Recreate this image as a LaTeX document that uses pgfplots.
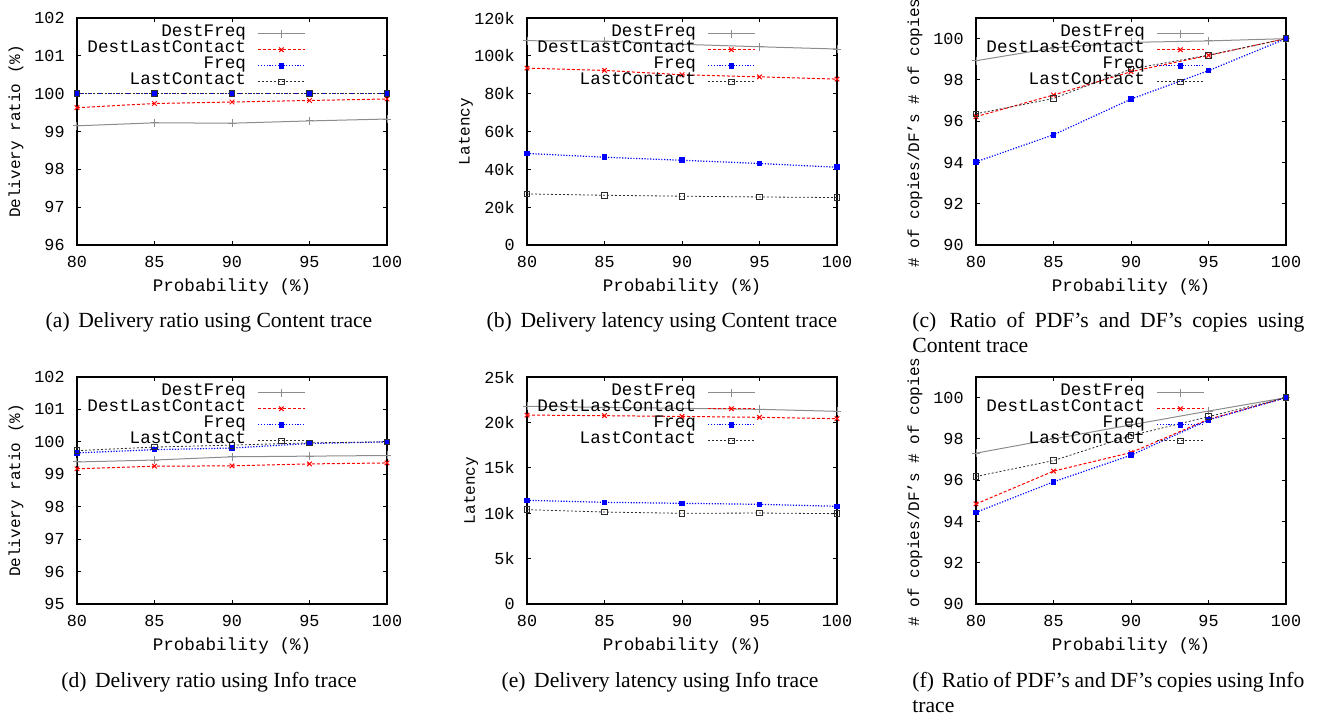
\documentclass[border=0pt]{standalone}
\usepackage{fontspec}
\setmainfont{Liberation Serif}
\newfontfamily\gp{Liberation Mono}
\usepackage{pgfplots}
\usepackage{pgfplotstable}
\pgfplotsset{compat=1.18}

\definecolor{dfgray}{RGB}{140,140,140}
\definecolor{lcgray}{RGB}{45,45,45}
\definecolor{gpred}{RGB}{255,0,0}
\definecolor{gpblue}{RGB}{0,0,255}

% columns: probability, DestFreq, DestLastContact, Freq, LastContact
\pgfplotstableread{
p   df     dlc    f      lc
80  99.15  99.63  100    100
85  99.23  99.74  100    100
90  99.22  99.78  100    100
95  99.28  99.82  100    100
100 99.33  99.86  100    100
}\ratiocontent
\pgfplotstableread{
p   df      dlc    f      lc
80  108000  93500  48400  27000
85  107800  92300  46400  26300
90  106100  90000  44800  25800
95  104800  88900  43100  25400
100 103600  87700  41100  25100
}\latcontent
\pgfplotstableread{
p   df     dlc    f      lc
80  98.93  96.22  94.03  96.36
85  99.55  97.27  95.34  97.10
90  99.82  98.40  97.07  98.53
95  99.89  99.19  98.45  99.20
100 100    100    100    100
}\copiescontent
\pgfplotstableread{
p   df     dlc    f      lc
80  99.38  99.17  99.66  99.73
85  99.44  99.25  99.76  99.84
90  99.54  99.26  99.81  99.90
95  99.56  99.32  99.95  99.97
100 99.58  99.35  100    100
}\ratioinfo
\pgfplotstableread{
p   df     dlc    f      lc
80  21770  20810  11420  10390
85  21660  20740  11200  10130
90  21550  20660  11090  9990
95  21440  20560  10980  10020
100 21220  20410  10760  9950
}\latinfo
\pgfplotstableread{
p   df     dlc    f      lc
80  97.31  94.85  94.44  96.18
85  98.00  96.44  95.92  96.95
90  98.68  97.34  97.21  98.16
95  99.35  98.95  98.92  99.08
100 100    100    100    100
}\copiesinfo

\pgfplotsset{
  gpaxis/.style={
    scale only axis, width=155pt, height=113.5pt,
    xmin=80, xmax=100, xtick={80,85,90,95,100},
    tick align=inside, major tick length=2pt,
    axis line style={line width=0.8pt},
    every tick/.style={black, line width=0.5pt},
    /pgf/number format/assume math mode=true,
    scaled y ticks=false,
    ticklabel style={font=\gp\fontsize{8.4}{9}\selectfont},
    xticklabel style={anchor=center, yshift=-8.7pt},
    yticklabel style={anchor=east, inner sep=0pt, xshift=-6pt},
    xlabel={Probability (\%)},
    xlabel style={at={(axis description cs:0.5,-0.185)}, anchor=center, font=\gp\fontsize{8.8}{9}\selectfont},
    ylabel style={at={(axis description cs:-0.197,0.5)}, anchor=center, font=\gp\fontsize{8}{9}\selectfont},
    legend style={draw=none, fill=none, at={(0.7365,0.966)}, anchor=north east,
      inner sep=0pt, outer sep=0pt, row sep=0pt, column sep=5.8pt,
      font=\gp\fontsize{8.8}{9}\selectfont,
      nodes={inner sep=0pt, text height=5.5pt, text depth=2.5pt}},
    legend cell align=right,
    legend plot pos=right,
    legend image code/.code={\draw[mark repeat=2,mark phase=2,##1] plot coordinates {(0pt,0pt) (11.65pt,0pt) (23.3pt,0pt)};},
  },
  sDF/.style={dfgray, solid, line width=0.5pt, mark=+, mark size=2pt},
  sDLC/.style={gpred, line width=0.5pt, dash pattern=on 1.5pt off 1pt, mark=x, mark size=1.6pt, mark options={solid}},
  sF/.style={gpblue, line width=0.6pt, dash pattern=on 0.6pt off 0.8pt, mark=square*, mark size=1.1pt, mark options={solid}},
  sLC/.style={lcgray, line width=0.4pt, dash pattern=on 1pt off 1pt, mark=square, mark size=1.4pt, mark options={solid}},
}

\newcommand\fourseries[1]{%
  \addplot[sDF] table[x=p, y=df] {#1}; \addlegendentry{DestFreq}
  \addplot[sDLC] table[x=p, y=dlc] {#1}; \addlegendentry{DestLastContact}
  \addplot[sF] table[x=p, y=f] {#1}; \addlegendentry{Freq}
  \addplot[sLC] table[x=p, y=lc] {#1}; \addlegendentry{LastContact}
}

\newcommand\capfont{\fontsize{10.8}{13}\selectfont}

\begin{document}
\begin{tikzpicture}
\path[use as bounding box] (0pt,0pt) rectangle (666pt,-359.5pt);

% (a)
\begin{axis}[gpaxis, at={(38.5pt,-122.5pt)}, anchor=south west,
  ymin=96, ymax=102, ytick={96,97,...,102}, ylabel={Delivery ratio (\%)}]
  \fourseries{\ratiocontent}
\end{axis}

% (b)
\begin{axis}[gpaxis, at={(263.5pt,-122.5pt)}, anchor=south west,
  ymin=0, ymax=120000, ytick={0,20000,40000,60000,80000,100000,120000},
  yticklabels={0,20k,40k,60k,80k,100k,120k}, ylabel={Latency}]
  \fourseries{\latcontent}
\end{axis}

% (c)
\begin{axis}[gpaxis, at={(488pt,-122.5pt)}, anchor=south west,
  ymin=90, ymax=101, ytick={90,92,...,100},
  ylabel={\# of copies/DF’s \# of copies},
  ylabel style={at={(axis description cs:-0.197,-0.101)}, anchor=west, inner sep=0pt}]
  \fourseries{\copiescontent}
\end{axis}

% (d)
\begin{axis}[gpaxis, at={(38.5pt,-302pt)}, anchor=south west,
  ymin=95, ymax=102, ytick={95,96,...,102}, ylabel={Delivery ratio (\%)}]
  \fourseries{\ratioinfo}
\end{axis}

% (e)
\begin{axis}[gpaxis, at={(263.5pt,-302pt)}, anchor=south west,
  ymin=0, ymax=25000, ytick={0,5000,10000,15000,20000,25000},
  yticklabels={0,5k,10k,15k,20k,25k}, ylabel={Latency},
  ylabel style={at={(axis description cs:-0.18,0.5)}}]
  \fourseries{\latinfo}
\end{axis}

% (f)
\begin{axis}[gpaxis, at={(488pt,-302pt)}, anchor=south west,
  ymin=90, ymax=101, ytick={90,92,...,100},
  ylabel={\# of copies/DF’s \# of copies},
  ylabel style={at={(axis description cs:-0.197,-0.101)}, anchor=west, inner sep=0pt}]
  \fourseries{\copiesinfo}
\end{axis}

% captions
\node[anchor=base, inner sep=0pt, font=\capfont] at (104.5pt,-163.5pt) {(a)\hspace{0.15em} Delivery ratio using Content trace};
\node[anchor=base, inner sep=0pt, font=\capfont] at (331pt,-163.5pt) {(b)\hspace{0.15em} Delivery latency using Content trace};
\node[anchor=base west, inner sep=0pt, font=\capfont] at (456pt,-163.5pt) {\makebox[196pt][s]{(c)\hspace{0.15em} Ratio of PDF’s and DF’s copies using}};
\node[anchor=base west, inner sep=0pt, font=\capfont] at (456pt,-176pt) {Content trace};

\node[anchor=base, inner sep=0pt, font=\capfont] at (104.5pt,-343.5pt) {(d)\hspace{0.15em} Delivery ratio using Info trace};
\node[anchor=base, inner sep=0pt, font=\capfont] at (330pt,-343.5pt) {(e)\hspace{0.15em} Delivery latency using Info trace};
\node[anchor=base west, inner sep=0pt, font=\capfont] at (456pt,-343.5pt) {\makebox[196pt][s]{(f)\hspace{0.15em} Ratio of PDF’s and DF’s copies using Info}};
\node[anchor=base west, inner sep=0pt, font=\capfont] at (456pt,-356pt) {trace};
\end{tikzpicture}
\end{document}
